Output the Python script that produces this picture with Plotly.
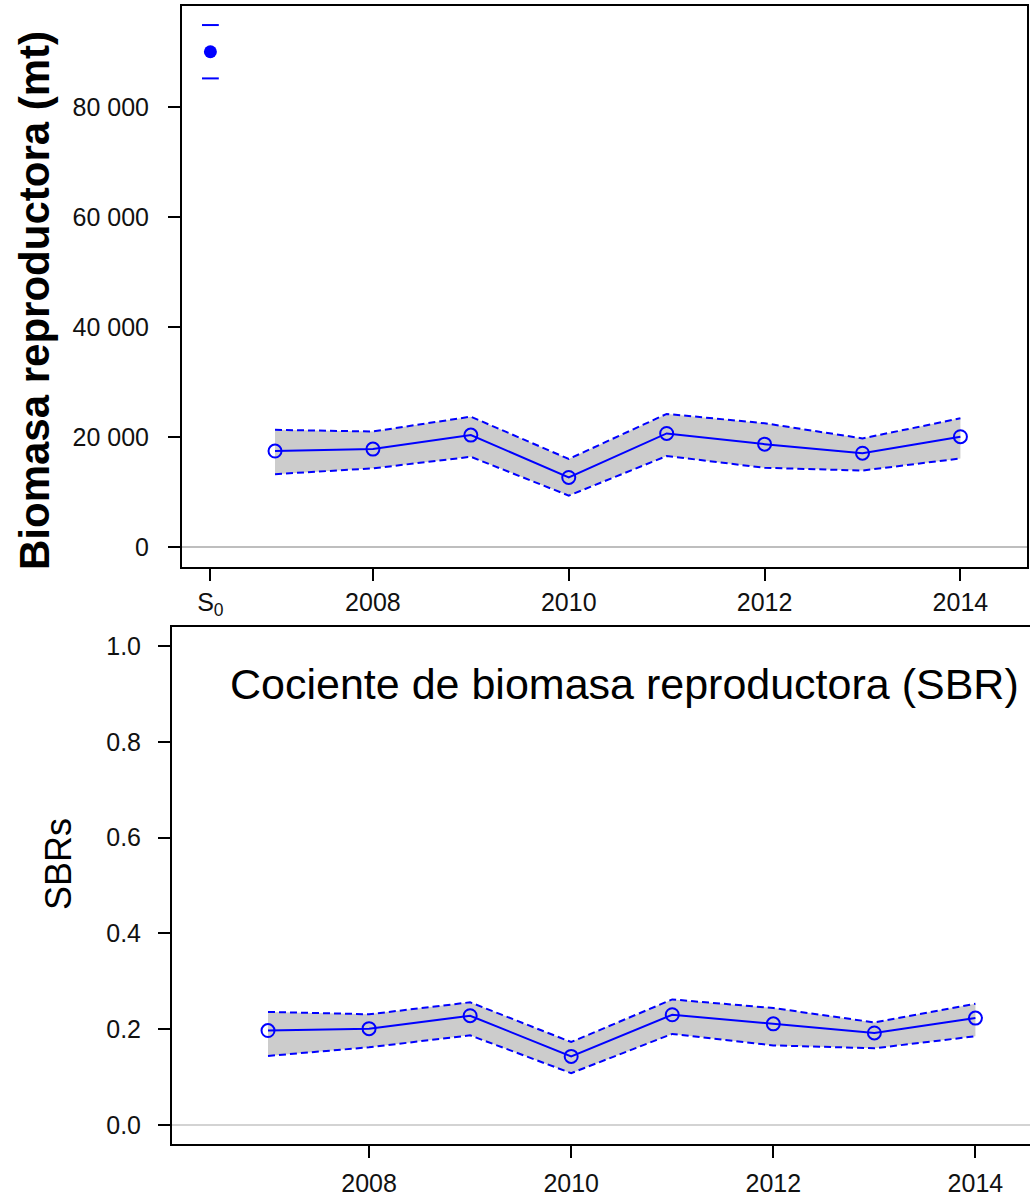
import plotly.graph_objects as go

# ---------------- data ----------------
years = [2007, 2008, 2009, 2010, 2011, 2012, 2013, 2014]
sb_mid = [17450, 17800, 20350, 12650, 20650, 18700, 17050, 20050]
sb_upper = [21300, 21000, 23700, 16000, 24200, 22500, 19750, 23400]
sb_lower = [13250, 14300, 16400, 9350, 16550, 14400, 13900, 16100]

s0_value = 90050
s0_upper = 94900
s0_lower = 85200
s0_label = "S<sub>0</sub>"
s0_pos = 2006.34

sbr_mid = [0.197, 0.201, 0.228, 0.143, 0.230, 0.211, 0.192, 0.223]
sbr_upper = [0.236, 0.231, 0.256, 0.173, 0.262, 0.244, 0.214, 0.253]
sbr_lower = [0.144, 0.162, 0.187, 0.108, 0.190, 0.166, 0.160, 0.185]

top_yticks = [0, 20000, 40000, 60000, 80000]
top_yticklabels = ["0", "20 000", "40 000", "60 000", "80 000"]
xticks_years = [2008, 2010, 2012, 2014]
bot_yticks = [0.0, 0.2, 0.4, 0.6, 0.8, 1.0]
bot_yticklabels = ["0.0", "0.2", "0.4", "0.6", "0.8", "1.0"]

title_top_y = "Biomasa reproductora (mt)"
title_bot_y = "SBRs"
title_bot = "Cociente de biomasa reproductora (SBR)"

# ---------------- styling ----------------
W, H = 1030, 1199
BLUE = "#0000FF"
BAND = "#CCCCCC"
FONT = "Liberation Sans, Arial, sans-serif"
TICKFONT = dict(family=FONT, size=25, color="#111111")


def px_x(p):
    return p / W


def px_y(p):
    return 1 - p / H


fig = go.Figure()


def add_series(x, mid, up, lo, xa, ya):
    fig.add_trace(go.Scatter(
        x=x + x[::-1], y=up + lo[::-1], fill="toself", fillcolor=BAND,
        line=dict(width=0), mode="lines", hoverinfo="skip", showlegend=False,
        xaxis=xa, yaxis=ya))
    for arr in (up, lo):
        fig.add_trace(go.Scatter(
            x=x, y=arr, mode="lines",
            line=dict(color=BLUE, width=2, dash="7px,4px"),
            showlegend=False, xaxis=xa, yaxis=ya))
    fig.add_trace(go.Scatter(
        x=x, y=mid, mode="lines+markers",
        line=dict(color=BLUE, width=2),
        marker=dict(symbol="circle-open", size=13, color=BLUE, line=dict(width=2, color=BLUE)),
        showlegend=False, xaxis=xa, yaxis=ya))


add_series(years, sb_mid, sb_upper, sb_lower, "x", "y")

# S0 point with short bars
fig.add_trace(go.Scatter(
    x=[s0_pos], y=[s0_value], mode="markers",
    marker=dict(symbol="circle", size=13, color=BLUE),
    showlegend=False, xaxis="x", yaxis="y"))
fig.add_trace(go.Scatter(
    x=[s0_pos, s0_pos], y=[s0_upper, s0_lower], mode="markers",
    marker=dict(symbol="line-ew", size=12, line=dict(width=2, color=BLUE), color=BLUE),
    showlegend=False, xaxis="x", yaxis="y"))

add_series(years, sbr_mid, sbr_upper, sbr_lower, "x2", "y2")

axis_common = dict(
    showline=True, linecolor="black", linewidth=2,
    ticks="outside", ticklen=12, tickwidth=2, tickcolor="black",
    tickfont=TICKFONT, showgrid=False, fixedrange=True,
)

fig.update_layout(
    width=W, height=H,
    margin=dict(l=0, r=0, t=0, b=0),
    paper_bgcolor="white", plot_bgcolor="white",
    showlegend=False,
    xaxis=dict(
        domain=[px_x(182), px_x(1027)], anchor="y",
        range=[2006.05, 2014.68],
        tickvals=[s0_pos] + xticks_years,
        ticktext=[s0_label] + [str(v) for v in xticks_years],
        mirror=True, zeroline=False, ticklabelstandoff=0,
        **axis_common),
    yaxis=dict(
        domain=[px_y(567), px_y(6)], anchor="x",
        range=[-3636, 98364],
        tickvals=top_yticks, ticktext=top_yticklabels,
        mirror=True, zeroline=True, zerolinecolor="#BEBEBE", zerolinewidth=2,
        ticklabelstandoff=14,
        **axis_common),
    xaxis2=dict(
        domain=[px_x(172), 1.0], anchor="y2",
        range=[2006.05, 2014.54],
        tickvals=xticks_years, ticktext=[str(v) for v in xticks_years],
        mirror=True, zeroline=False, ticklabelstandoff=4,
        **axis_common),
    yaxis2=dict(
        domain=[px_y(1144), px_y(627)], anchor="x2",
        range=[-0.04, 1.04],
        tickvals=bot_yticks, ticktext=bot_yticklabels,
        mirror=False, zeroline=True, zerolinecolor="#D3D3D3", zerolinewidth=2,
        ticklabelstandoff=12,
        **axis_common),
    annotations=[
        dict(text="<b>" + title_top_y + "</b>", x=px_x(35), y=px_y(301),
             xref="paper", yref="paper", xanchor="center", yanchor="middle",
             textangle=-90, showarrow=False,
             font=dict(family=FONT, size=42, color="black")),
        dict(text=title_bot_y, x=px_x(58), y=px_y(864),
             xref="paper", yref="paper", xanchor="center", yanchor="middle",
             textangle=-90, showarrow=False,
             font=dict(family=FONT, size=36, color="black")),
        dict(text=title_bot, x=px_x(624), y=px_y(684),
             xref="paper", yref="paper", xanchor="center", yanchor="middle",
             showarrow=False,
             font=dict(family=FONT, size=43, color="black")),
    ],
)

fig.write_html("out.html")
